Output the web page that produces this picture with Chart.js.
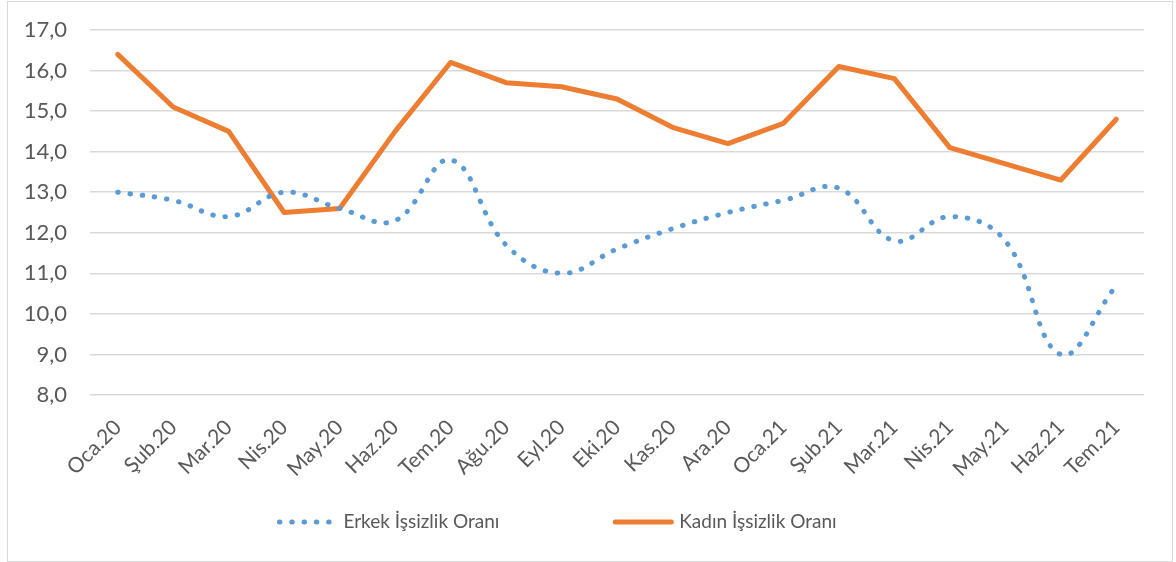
<!DOCTYPE html>
<html>
<head>
<meta charset="utf-8">
<script src="https://cdn.jsdelivr.net/npm/chart.js@4.4.1/dist/chart.umd.min.js"></script>
<style>
  html, body { margin: 0; padding: 0; background: #fff; }
  #frame { position: absolute; left: 7px; top: 1px; width: 1164px; height: 559px; border: 1px solid #d9d9d9; }
  #chart { position: absolute; left: 0; top: 0; }
</style>
</head>
<body>
<div id="frame"></div>
<canvas id="chart" width="1176" height="562"></canvas>
<script>
/* global Chart */

const months = ['Oca.20', 'Şub.20', 'Mar.20', 'Nis.20', 'May.20', 'Haz.20', 'Tem.20', 'Ağu.20', 'Eyl.20', 'Eki.20',
  'Kas.20', 'Ara.20', 'Oca.21', 'Şub.21', 'Mar.21', 'Nis.21', 'May.21', 'Haz.21', 'Tem.21'];
const erkek = [13.0, 12.8, 12.4, 13.0, 12.6, 12.3, 13.8, 11.7, 11.0, 11.6, 12.1, 12.5, 12.8, 13.1, 11.8, 12.4, 11.8, 9.0, 10.7];
const kadin = [16.4, 15.1, 14.5, 12.5, 12.6, 14.5, 16.2, 15.7, 15.6, 15.3, 14.6, 14.2, 14.7, 16.1, 15.8, 14.1, 13.7, 13.3, 14.8];
const yMin = 8;
const yMax = 17;

const BLUE = '#5b9bd5';
const ORANGE = '#ed7d31';
const TEXT = '#595959';
const FONT = 'Lato';

// excel-style legend under the chart: dotted sample for the first series, solid for the second
const bottomLegend = {
  id: 'bottomLegend',
  afterDraw(chart) {
    const ctx = chart.ctx;
    const ds = chart.data.datasets;
    const y = 522;
    const sample = 58;
    const gap = 8;
    const spacing = 114;
    ctx.save();
    ctx.font = `19px ${FONT}`;
    const w0 = ctx.measureText(ds[0].label).width;
    const w1 = ctx.measureText(ds[1].label).width;
    const total = sample + gap + w0 + spacing + sample + gap + w1;
    let x = 557 - total / 2;
    const items = [
      {d: ds[0], w: w0},
      {d: ds[1], w: w1}
    ];
    items.forEach((it, i) => {
      ctx.beginPath();
      ctx.strokeStyle = it.d.borderColor;
      ctx.lineWidth = it.d.borderWidth;
      ctx.lineCap = 'round';
      ctx.setLineDash(it.d.borderDash || []);
      ctx.moveTo(x + 2, y);
      ctx.lineTo(x + sample, y);
      ctx.stroke();
      ctx.setLineDash([]);
      x += sample + gap;
      ctx.fillStyle = TEXT;
      ctx.textBaseline = 'middle';
      ctx.textAlign = 'left';
      ctx.fillText(it.d.label, x, y);
      x += it.w + (i === 0 ? spacing : 0);
    });
    ctx.restore();
  }
};

const ctx = document.getElementById('chart').getContext('2d');
new Chart(ctx, {
  type: 'line',
  data: {
    labels: months,
    datasets: [
      {
        label: 'Erkek İşsizlik Oranı',
        data: erkek,
        borderColor: BLUE,
        borderWidth: 5,
        borderDash: [0.5, 11.8],
        borderCapStyle: 'round',
        borderJoinStyle: 'round',
        tension: 0.4,
        pointRadius: 0,
        fill: false
      },
      {
        label: 'Kadın İşsizlik Oranı',
        data: kadin,
        borderColor: ORANGE,
        borderWidth: 5,
        borderCapStyle: 'round',
        borderJoinStyle: 'round',
        tension: 0,
        pointRadius: 0,
        fill: false
      }
    ]
  },
  options: {
    responsive: false,
    animation: false,
    devicePixelRatio: 1,
    layout: {padding: {left: 0, top: 30, right: 32, bottom: 0}},
    plugins: {
      legend: {display: false},
      tooltip: {enabled: false}
    },
    scales: {
      x: {
        offset: true,
        grid: {display: false},
        border: {display: false},
        ticks: {
          color: TEXT,
          font: {family: FONT, size: 21},
          maxRotation: 45,
          minRotation: 45,
          autoSkip: false,
          padding: 12
        },
        afterFit: (scale) => { scale.height = 167; }
      },
      y: {
        min: yMin,
        max: yMax,
        grid: {color: '#d9d9d9', lineWidth: 1.5, drawTicks: false},
        border: {display: false},
        ticks: {
          stepSize: 1,
          color: TEXT,
          font: {family: FONT, size: 22},
          padding: 23,
          callback: (v) => v.toFixed(1).replace('.', ',')
        },
        // the big tick padding would otherwise push the plot top down
        afterFit: (scale) => {
          scale.width = 90;
          scale.paddingTop = 0;
          scale.paddingBottom = 0;
        }
      }
    }
  },
  plugins: [bottomLegend]
});
</script>
</body>
</html>
